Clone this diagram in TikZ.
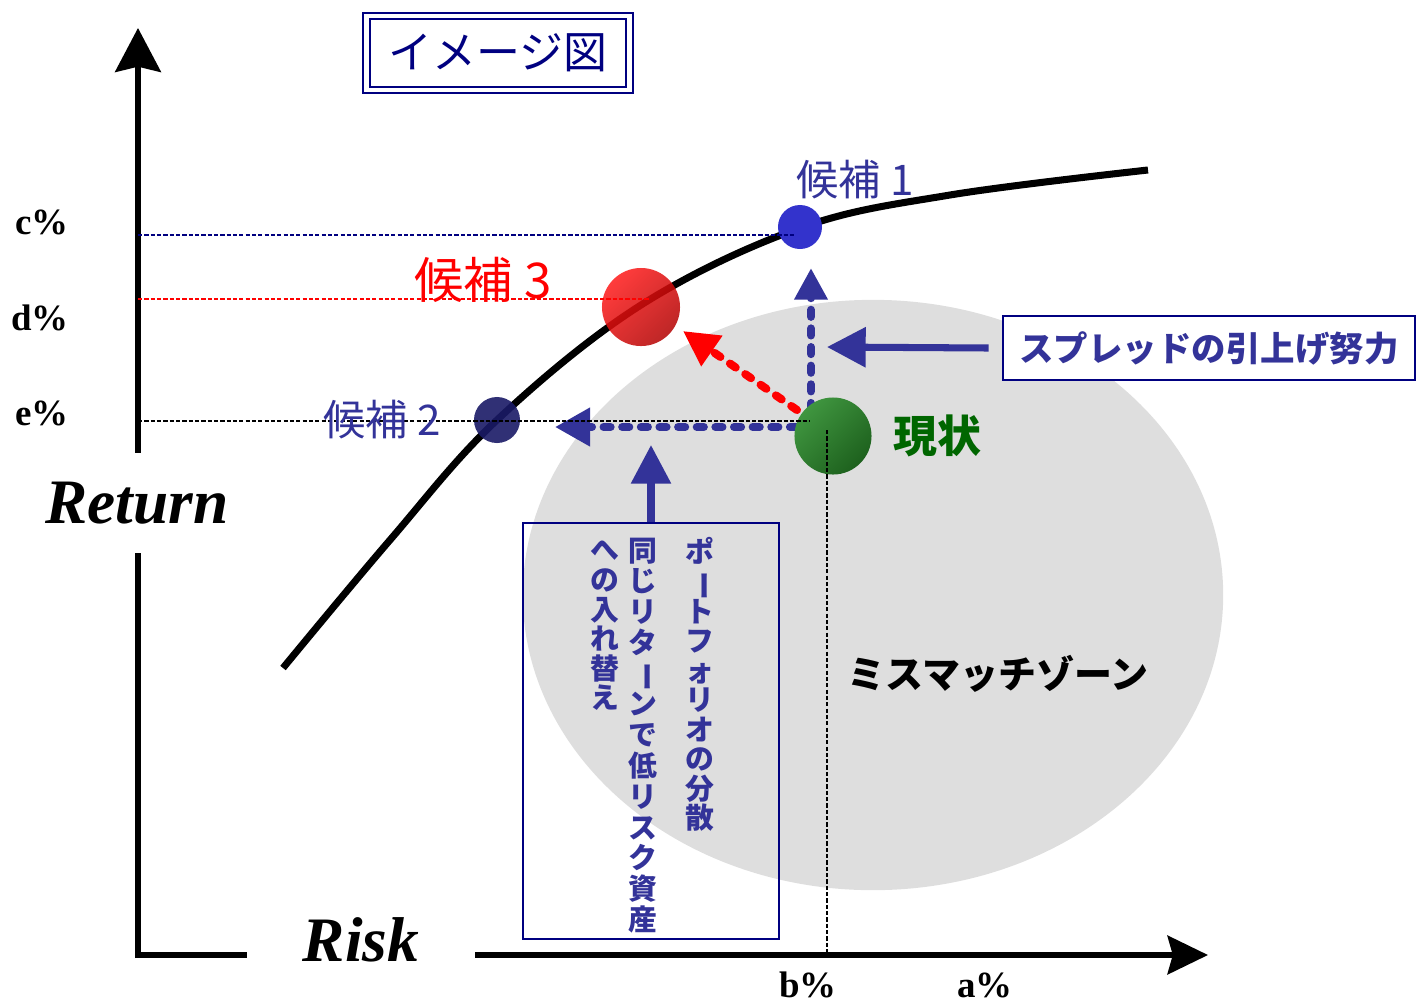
\documentclass[tikz,border=0pt]{standalone}
\usepackage{fontspec}
\setmainfont{Liberation Serif}
\newfontfamily\jp{Noto Sans CJK JP}
\usepackage{graphicx}
\usetikzlibrary{arrows.meta}

\definecolor{navyline}{HTML}{000080}
\definecolor{candblue}{HTML}{333399}
\definecolor{dotblue}{HTML}{3333CC}
\definecolor{dotnavy}{HTML}{1A1A66}
\definecolor{nowgreen}{HTML}{2A8A2A}
\definecolor{labelgreen}{HTML}{006600}
\definecolor{zonegray}{HTML}{DEDEDE}

% long vowel mark for vertical text
\newcommand{\tate}{\smash{\rotatebox[origin=c]{-90}{ー}}}

\tikzset{
  axis/.style={line width=1.5pt},
  guide/.style={line width=0.45pt, dash pattern=on 1.2pt off 0.6pt},
  candlabel/.style={font=\jp\fontsize{12}{14}\selectfont, text=candblue},
  pct/.style={font=\bfseries\fontsize{10.5}{12}\selectfont},
  axislabel/.style={font=\bfseries\itshape\fontsize{18}{20}\selectfont, fill=white},
  dot/.style={circle, inner sep=0pt},
  moveline/.style={line width=2.3pt, line cap=round, dash pattern=on 2pt off 3.3pt},
  pushline/.style={line width=2pt, candblue},
  vcol/.style={font=\jp\bfseries\fontsize{8.2}{8.4}\selectfont, text=candblue,
    align=center, anchor=north, inner sep=0pt}
}

\begin{document}
\begin{tikzpicture}[x=0.01cm,y=-0.01cm]
  \useasboundingbox (0,0) rectangle (1417,1002);

  % mismatch zone
  \fill[zonegray] (873,595) ellipse [x radius=3.5cm, y radius=2.95cm];

  % axes
  \coordinate (O) at (138,958);
  \coordinate (ytop) at (138,28);
  \coordinate (xstart) at (136,955);
  \coordinate (xend) at (1208,955);
  \draw[axis, -{Stealth[length=12.5pt, width=13pt, inset=1.5pt]}] (O) -- (ytop);
  \draw[axis, -{Stealth[length=11.5pt, width=11pt, inset=1.5pt]}] (xstart) -- (xend);

  % efficient frontier
  \draw[line width=2pt] plot[smooth, tension=0.6] coordinates
    {(283,668) (390,540) (497,420) (641,305) (800,228) (950,195) (1148,170)};

  % moves from the current position
  \coordinate (nowW) at (797,427);
  \coordinate (c2tip) at (555,427);
  \coordinate (upS) at (811,410);
  \coordinate (upT) at (811,268);
  \coordinate (redS) at (797,410);
  \coordinate (c3tip) at (683,331);
  \draw[moveline, candblue, -{Triangle[length=10pt, width=10.5pt]}] (nowW) -- (c2tip);
  \draw[moveline, candblue, -{Triangle[length=9pt, width=9pt]}] (upS) -- (upT);
  \draw[moveline, red, -{Triangle[length=10pt, width=10pt]}] (redS) -- (c3tip);

  % candidates and current position
  \node[dot, fill=dotblue, minimum size=0.44cm] (cand1) at (800,227) {};
  \node[dot, left color=red!90!white, right color=red!70!black, shading angle=45,
    opacity=0.85, minimum size=0.78cm] (cand3) at (641,307) {};
  \node[dot, fill=dotnavy, opacity=0.9, minimum size=0.46cm] (cand2) at (497,420) {};
  \node[dot, left color=nowgreen!90!white, right color=nowgreen!70!black, shading angle=45,
    minimum size=0.77cm] (now) at (833,436) {};

  % guide lines
  \coordinate (yc) at (138,235);
  \coordinate (yd) at (138,299);
  \coordinate (ye) at (138,421);
  \coordinate (c1e) at (795,235);
  \coordinate (c3e) at (650,299);
  \coordinate (nowe) at (810,421);
  \coordinate (nowb) at (827,430);
  \coordinate (xb) at (827,955);
  \draw[guide, navyline] (yc) -- (c1e);
  \draw[guide, red] (yd) -- (c3e);
  \draw[guide] (ye) -- (nowe);
  \draw[guide] (nowb) -- (xb);

  % axis labels
  \node[axislabel, minimum height=1cm] (ret) at (137,503) {Return};
  \node[axislabel, minimum width=2.27cm, minimum height=0.6cm] (risk) at (361,940) {Risk};
  \node[pct] (cpct) at (42,222) {c\%};
  \node[pct] (dpct) at (40,318) {d\%};
  \node[pct] (epct) at (42,413) {e\%};
  \node[pct] (bpct) at (808,985) {b\%};
  \node[pct] (apct) at (985,985) {a\%};

  % title
  \node[draw=navyline, double, double distance=1.2pt, line width=0.6pt,
    minimum width=2.63cm, minimum height=0.74cm,
    font=\jp\fontsize{12.5}{14}\selectfont, text=navyline] (title) at (498,53) {イメージ図};

  % candidate labels
  \node[candlabel] (lab1) at (855,180) {候補 1};
  \node[candlabel, font=\jp\fontsize{14}{16}\selectfont, text=red] (lab3) at (483,280) {候補 3};
  \node[candlabel] (lab2) at (382,420) {候補 2};
  \node[font=\jp\bfseries\fontsize{12.5}{14}\selectfont, text=labelgreen] (nowlab) at (937,436) {現状};
  \node[font=\jp\bfseries\fontsize{10.8}{12}\selectfont] (zone) at (998,674) {ミスマッチゾーン};

  % spread box and arrow
  \node[draw=navyline, line width=0.7pt, fill=white, minimum width=4.12cm, minimum height=0.64cm,
    inner xsep=0pt, font=\jp\bfseries\fontsize{9.8}{12}\selectfont, text=candblue] (spread) at (1209,348)
    {スプレッドの引上げ努力};
  \coordinate (spreadtip) at (827,347);
  \draw[pushline, -{Triangle[length=11pt, width=11pt]}] ([xshift=-0.13cm]spread.west) -- (spreadtip);

  % replacement box and arrow
  \node[draw=navyline, line width=0.6pt, minimum width=2.56cm, minimum height=4.16cm] (shift) at (651,731) {};
  \coordinate (shifttip) at (651,445);
  \draw[pushline, -{Triangle[length=11pt, width=11pt]}] (shift.north) -- (shifttip);
  \node[vcol] (col1) at (700,537) {ポ\\\tate\\ト\\フ\\ォ\\リ\\オ\\の\\分\\散};
  \node[vcol, font=\jp\bfseries\fontsize{8.2}{8.75}\selectfont] (col2) at (643,537)
    {同\\じ\\リ\\タ\\\tate\\ン\\で\\低\\リ\\ス\\ク\\資\\産};
  \node[vcol] (col3) at (605,540) {へ\\の\\入\\れ\\替\\え};
\end{tikzpicture}
\end{document}
